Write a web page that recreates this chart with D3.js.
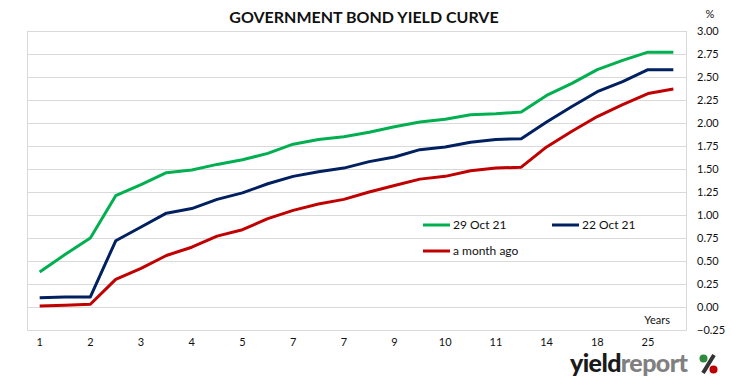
<!DOCTYPE html>
<html>
<head>
<meta charset="utf-8">
<script src="https://cdn.jsdelivr.net/npm/d3@7"></script>
<style>
  html, body { margin: 0; padding: 0; background: #fff; }
  svg { display: block; font-family: Lato, 'Open Sans', sans-serif; }
</style>
</head>
<body>
<div id="chart"></div>
<script>
// maturities (years) — only every other label is drawn on the axis
const maturities = ['1','1','2','2','3','3','4','4','5','6','7','7','7','8','9','9','10','10','11','12','14','15','18','20','25','30'];

// yields, %
const oct29 = [0.38,0.57,0.75,1.21,1.33,1.46,1.49,1.55,1.60,1.67,1.77,1.82,1.85,1.90,1.96,2.01,2.04,2.09,2.10,2.12,2.30,2.43,2.58,2.68,2.77,2.77];
const oct22 = [0.10,0.11,0.11,0.72,0.87,1.02,1.07,1.17,1.24,1.34,1.42,1.47,1.51,1.58,1.63,1.71,1.74,1.79,1.82,1.83,2.01,2.18,2.34,2.45,2.58,2.58];
const monthAgo = [0.01,0.02,0.03,0.30,0.42,0.56,0.65,0.77,0.84,0.96,1.05,1.12,1.17,1.25,1.32,1.39,1.42,1.48,1.51,1.52,1.74,1.91,2.07,2.20,2.32,2.37];

const yTicks = [-0.25,0,0.25,0.5,0.75,1,1.25,1.5,1.75,2,2.25,2.5,2.75,3];

const series = [
  { name: '29 Oct 21', values: oct29, color: '#00b050' },
  { name: '22 Oct 21', values: oct22, color: '#002060' },
  { name: 'a month ago', values: monthAgo, color: '#c00000' },
];

const W = 731, H = 381;
const L = 27, R = 686, T = 31, B = 330;

const svg = d3.select('#chart').append('svg')
  .attr('width', W).attr('height', H);

const x = d3.scaleBand().domain(d3.range(maturities.length)).range([L, R]);
const y = d3.scaleLinear().domain([-0.25, 3]).range([B, T]);
const cx = i => x(i) + x.bandwidth() / 2;

// gridlines
svg.append('g')
  .selectAll('line')
  .data(yTicks)
  .join('line')
  .attr('x1', L).attr('x2', R)
  .attr('y1', d => Math.round(y(d)) + 0.5)
  .attr('y2', d => Math.round(y(d)) + 0.5)
  .attr('stroke', '#d9d9d9');

// plot border (left / right / bottom)
svg.append('path')
  .attr('d', `M${L + 0.5},${T}V${B + 0.5}H${R + 0.5}V${T}`)
  .attr('fill', 'none')
  .attr('stroke', '#d9d9d9');

// right axis labels
const yAxis = svg.append('g')
  .attr('transform', `translate(${R},0)`)
  .call(d3.axisRight(y).tickValues(yTicks).tickFormat(d3.format('.2f')).tickSize(0));
yAxis.select('.domain').remove();
yAxis.selectAll('text')
  .attr('x', 11)
  .attr('font-size', 11)
  .attr('font-family', 'Lato, sans-serif')
  .attr('fill', '#111');

// bottom axis labels
const xAxis = svg.append('g')
  .attr('transform', `translate(0,${B})`)
  .call(d3.axisBottom(x)
    .tickValues(d3.range(0, maturities.length, 2))
    .tickFormat(i => maturities[i])
    .tickSize(0));
xAxis.select('.domain').remove();
xAxis.selectAll('text')
  .attr('y', 8)
  .attr('font-size', 11)
  .attr('font-family', 'Lato, sans-serif')
  .attr('fill', '#111');

// lines
const line = d3.line().x((d, i) => cx(i)).y(d => y(d));
svg.append('g')
  .selectAll('path')
  .data(series.slice().reverse())
  .join('path')
  .attr('d', d => line(d.values))
  .attr('fill', 'none')
  .attr('stroke', d => d.color)
  .attr('stroke-width', 3)
  .attr('stroke-linejoin', 'round');

// legend
const legendPos = [[423, 225], [552, 225], [423, 251]];
const lg = svg.append('g')
  .selectAll('g')
  .data(series)
  .join('g')
  .attr('transform', (d, i) => `translate(${legendPos[i][0]},${legendPos[i][1]})`);
lg.append('line')
  .attr('x1', 0).attr('x2', 27)
  .attr('stroke', d => d.color)
  .attr('stroke-width', 3);
lg.append('text')
  .attr('x', 30).attr('dy', '0.35em')
  .attr('font-size', 12)
  .attr('fill', '#111')
  .text(d => d.name);

// title & labels
svg.append('text')
  .attr('x', 364).attr('y', 23)
  .attr('text-anchor', 'middle')
  .attr('font-size', 16)
  .attr('font-weight', 700)
  .attr('fill', '#111')
  .text('GOVERNMENT BOND YIELD CURVE');

svg.append('text')
  .attr('x', 710).attr('y', 18)
  .attr('text-anchor', 'middle')
  .attr('font-size', 11)
  .attr('fill', '#111')
  .text('%');

svg.append('text')
  .attr('x', 670).attr('y', 324)
  .attr('text-anchor', 'end')
  .attr('font-size', 11)
  .attr('fill', '#111')
  .text('Years');

// logo
const logo = svg.append('text')
  .attr('x', 570).attr('y', 372)
  .attr('font-size', 25)
  .attr('font-weight', 900)
  .attr('letter-spacing', -0.6);
logo.append('tspan').attr('fill', '#1a1a1a').text('yield');
logo.append('tspan').attr('fill', '#808080').text('report');
const pct = svg.append('g').attr('transform', 'translate(708,364)');
pct.append('line')
  .attr('x1', 6).attr('y1', -9).attr('x2', -5).attr('y2', 9)
  .attr('stroke', '#333').attr('stroke-width', 4);
pct.append('circle').attr('cx', -4.5).attr('cy', -5.5).attr('r', 4).attr('fill', '#2e8b3e');
pct.append('circle').attr('cx', 5.5).attr('cy', 5.5).attr('r', 4).attr('fill', '#c00000');
</script>
</body>
</html>
